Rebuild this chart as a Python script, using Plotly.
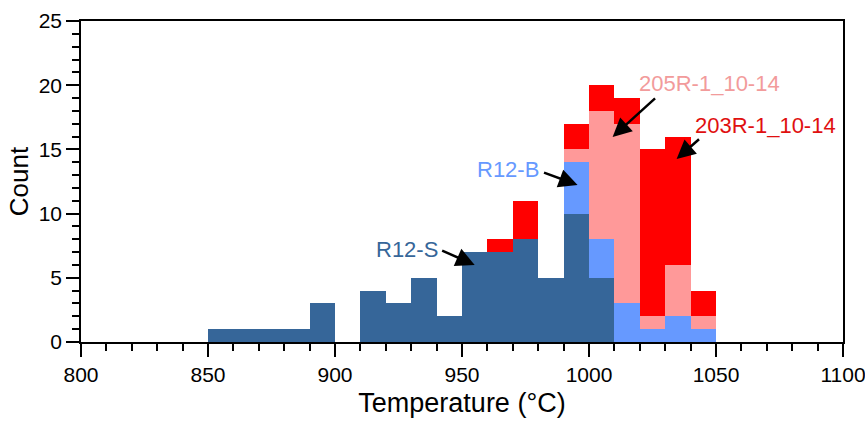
import plotly.graph_objects as go

bin_left = [850, 860, 870, 880, 890, 900, 910, 920, 930, 940,
            950, 960, 970, 980, 990, 1000, 1010, 1020, 1030, 1040]
bin_width = 10

r12_s = [1, 1, 1, 1, 3, 0, 4, 3, 5, 2, 7, 7, 8, 5, 10, 5, 0, 0, 0, 0]
r12_b = [0, 0, 0, 0, 0, 0, 0, 0, 0, 0, 0, 0, 0, 0, 4, 3, 3, 1, 2, 1]
s205r = [0, 0, 0, 0, 0, 0, 0, 0, 0, 0, 0, 0, 0, 0, 1, 10, 14, 1, 4, 1]
s203r = [0, 0, 0, 0, 0, 0, 0, 0, 0, 0, 0, 1, 3, 0, 2, 2, 2, 13, 10, 2]

series_names = ["R12-S", "R12-B", "205R-1_10-14", "203R-1_10-14"]
bar_colors = ["#366699", "#6699ff", "#ff9999", "#ff0000"]
label_colors = ["#366699", "#6699ff", "#f29b9b", "#e01010"]

x_ticks = [800, 850, 900, 950, 1000, 1050, 1100]
y_ticks = [0, 5, 10, 15, 20, 25]

centers = [b + bin_width / 2 for b in bin_left]

fig = go.Figure()
for name, vals, col in zip(series_names, [r12_s, r12_b, s205r, s203r], bar_colors):
    fig.add_trace(go.Bar(x=centers, y=vals, width=bin_width, name=name,
                         marker=dict(color=col, line=dict(width=0))))

font_main = "Liberation Sans, Arial, sans-serif"

fig.update_layout(
    barmode="stack", bargap=0, showlegend=False,
    width=865, height=421,
    margin=dict(l=81, r=22, t=21, b=79),
    plot_bgcolor="white", paper_bgcolor="white",
    font=dict(family=font_main, color="black"),
)

fig.update_xaxes(
    automargin=False, ticklabeloverflow="allow",
    range=[800, 1100], tickvals=x_ticks, ticks="outside", ticklen=13, tickwidth=1.5,
    tickcolor="black", showline=True, linecolor="black", linewidth=1.5, mirror=True,
    showgrid=False, zeroline=False, tickfont=dict(size=21),
    minor=dict(dtick=10, ticks="outside", ticklen=7, tickwidth=1.5, tickcolor="black", showgrid=False),
    title=dict(text="Temperature (°C)", font=dict(size=27), standoff=8),
)
fig.update_yaxes(
    automargin=False,
    range=[0, 25], tickvals=y_ticks, ticks="outside", ticklen=13, tickwidth=1.5,
    tickcolor="black", showline=True, linecolor="black", linewidth=1.5, mirror=True,
    showgrid=False, zeroline=False, tickfont=dict(size=21),
    minor=dict(dtick=1, ticks="outside", ticklen=7, tickwidth=1.5, tickcolor="black", showgrid=False),
    title=dict(text="Count", font=dict(size=26), standoff=3),
)

# labels
label_pos = [(928.2, 7.17), (968.3, 13.47), (1047.5, 20.17), (1069.5, 16.9)]
arrows = [((941.6, 7.17), (955.0, 6.0)),
          ((981.7, 13.24), (995.5, 12.23)),
          ((1026.6, 19.08), (1009.3, 15.97)),
          ((1043.9, 15.89), (1034.5, 14.25))]
for name, col, (tx, ty), ((ax, ay), (hx, hy)) in zip(series_names, label_colors, label_pos, arrows):
    fig.add_annotation(x=tx, y=ty, text=name, showarrow=False,
                       font=dict(size=22, color=col, family=font_main),
                       xanchor="center", yanchor="middle")
    fig.add_annotation(x=hx, y=hy, ax=ax, ay=ay, axref="x", ayref="y",
                       text="", showarrow=True, arrowhead=2, arrowsize=1.5,
                       arrowwidth=2.5, arrowcolor="black", standoff=0)

fig.write_html("out.html", config={"displayModeBar": False},
               post_script="document.body.style.margin='0';")
